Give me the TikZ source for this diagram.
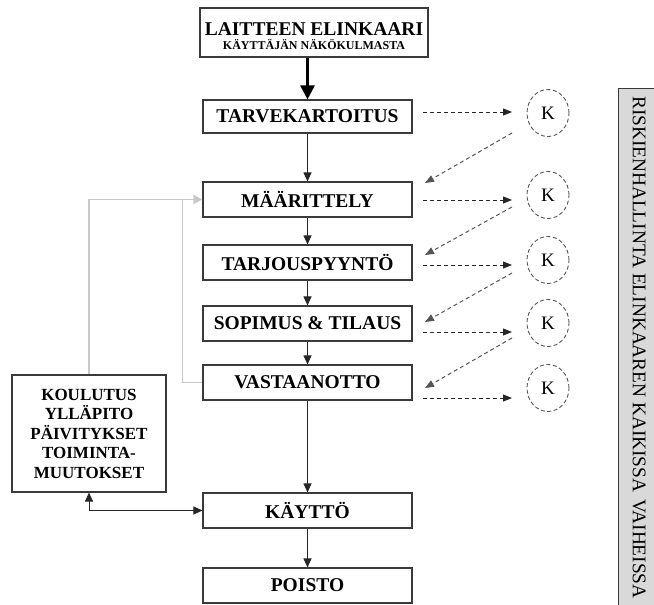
\documentclass[tikz,border=0pt]{standalone}
\usepackage{fontspec}
\setmainfont{Liberation Serif}
\usetikzlibrary{arrows.meta,shapes.geometric,calc}
\definecolor{boxline}{HTML}{3A3A3A}
\definecolor{lightline}{HTML}{C8C8C8}
\definecolor{sidefill}{HTML}{D9D9D9}
\definecolor{dashgray}{HTML}{555555}
\tikzset{
  stagebox/.style={draw=boxline, line width=1.1pt, minimum width=209pt, inner sep=0pt, align=center,
    font=\fontsize{19.5}{22}\selectfont\bfseries},
  sidebox/.style={draw=boxline, line width=1.1pt, inner sep=0pt, align=center,
    font=\fontsize{17}{19.5}\selectfont\bfseries},
  kcirc/.style={ellipse, draw=dashgray, dashed, dash pattern=on 4pt off 2.5pt, line width=0.9pt,
    minimum width=42pt, minimum height=47pt, inner sep=0pt, font=\fontsize{19}{21}\selectfont},
  flow/.style={draw=black!85, line width=1pt, -{Triangle[width=8pt,length=9pt]}},
  dflow/.style={draw=black!85, line width=1pt, dash pattern=on 4pt off 3pt, -{Triangle[width=7pt,length=9pt]}},
  dback/.style={draw=dashgray, line width=1pt, dash pattern=on 4pt off 3pt, -{Triangle[width=7pt,length=9pt]}},
  grayline/.style={draw=lightline, line width=1.5pt},
}
\begin{document}
\begin{tikzpicture}[x=1pt,y=-1pt]
\useasboundingbox (0,0) rectangle (654,605);
% side bar
\fill[sidefill] (618,88) rectangle (660,610);
\draw[boxline, line width=1pt] (618,610) -- (618,88) -- (660,88);
\node[rotate=-90, anchor=west, inner sep=0pt, font=\fontsize{19.3}{21}\selectfont] (side) at (639,96)
  {RISKIENHALLINTA ELINKAAREN KAIKISSA\hspace{2pt} VAIHEISSA};
% title
\node[draw=boxline, line width=1.2pt, minimum width=228pt, minimum height=49pt, inner sep=0pt] (title) at (314,32.5) {};
\node[anchor=base, inner sep=0pt, font=\fontsize{19.5}{21}\selectfont\bfseries] (t1) at (314,35.5) {LAITTEEN ELINKAARI};
\node[anchor=base, inner sep=0pt, font=\fontsize{12}{13}\selectfont\bfseries] (t2) at (314,49.5) {KÄYTTÄJÄN NÄKÖKULMASTA};
% stages
\node[stagebox, minimum height=33pt] (tarve) at (307.5,116.5) {TARVEKARTOITUS};
\node[stagebox, minimum height=35pt] (maar) at (307.5,199.5) {MÄÄRITTELY};
\node[stagebox, minimum height=35pt] (tarj) at (307.5,262.5) {TARJOUSPYYNTÖ};
\node[stagebox, minimum height=35pt] (sopi) at (307.5,323.5) {SOPIMUS \& TILAUS};
\node[stagebox, minimum height=35pt] (vast) at (307.5,382.5) {VASTAANOTTO};
\node[stagebox, minimum height=35pt] (kayt) at (307.5,510.5) {KÄYTTÖ};
\node[stagebox, minimum height=35pt] (pois) at (307.5,585.5) {POISTO};
\node[sidebox, minimum width=154pt, minimum height=117pt] (kou) at (89,433.5)
  {KOULUTUS\\YLLÄPITO\\PÄIVITYKSET\\TOIMINTA-\\MUUTOKSET};
% K circles
\node[kcirc] (k1) at (548,113) {K};
\node[kcirc] (k2) at (548,195) {K};
\node[kcirc] (k3) at (548,260) {K};
\node[kcirc] (k4) at (548,323) {K};
\node[kcirc] (k5) at (548,388) {K};
% gray feedback lines
\draw[grayline] (vast.west) -- ++(-20,0) |- (maar.west);
\draw[grayline, -{Triangle[width=9pt,length=9pt]}] (kou.north) |- (maar.west);
% main flow
\draw[black, line width=2.6pt, -{Triangle[width=14pt,length=14pt]}] (tarve.north |- title.south) -- (tarve.north);
\draw[flow] (tarve) -- (maar);
\draw[flow] (maar) -- (tarj);
\draw[flow] (tarj) -- (sopi);
\draw[flow] (sopi) -- (vast);
\draw[flow] (vast) -- (kayt);
\draw[flow] (kayt) -- (pois);
\draw[draw=black!85, line width=1pt, {Triangle[width=8pt,length=9pt]}-{Triangle[width=8pt,length=9pt]}] (kou.south) |- (kayt.west);
% dashed arrows to K
\coordinate (h1a) at (423,112); \coordinate (h1b) at (512,112);
\coordinate (h2a) at (423,200); \coordinate (h2b) at (512,200);
\coordinate (h3a) at (423,265); \coordinate (h3b) at (512,265);
\coordinate (h4a) at (423,332); \coordinate (h4b) at (512,332);
\coordinate (h5a) at (423,398); \coordinate (h5b) at (512,398);
\draw[dflow] (h1a) -- (h1b);
\draw[dflow] (h2a) -- (h2b);
\draw[dflow] (h3a) -- (h3b);
\draw[dflow] (h4a) -- (h4b);
\draw[dflow] (h5a) -- (h5b);
% dashed arrows back
\coordinate (d1a) at (512,133); \coordinate (d1b) at (425,183);
\coordinate (d2a) at (512,207); \coordinate (d2b) at (425,255);
\coordinate (d3a) at (512,273); \coordinate (d3b) at (425,322);
\coordinate (d4a) at (512,338); \coordinate (d4b) at (425,388);
\draw[dback] (d1a) -- (d1b);
\draw[dback] (d2a) -- (d2b);
\draw[dback] (d3a) -- (d3b);
\draw[dback] (d4a) -- (d4b);
\end{tikzpicture}
\end{document}
